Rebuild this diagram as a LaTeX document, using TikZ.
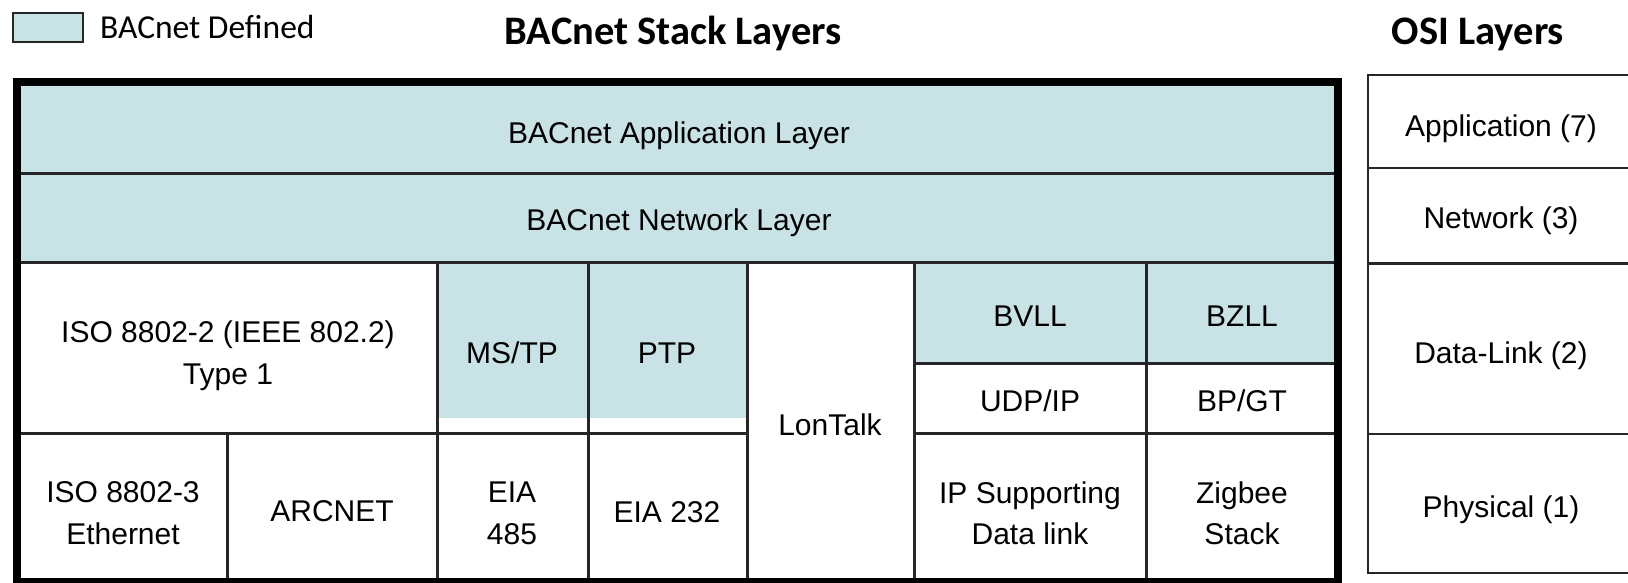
\documentclass[tikz,border=0pt]{standalone}
\usepackage{fontspec}
\setmainfont{Liberation Sans}
\newfontfamily\calibrifont{Carlito}
\definecolor{bacblue}{RGB}{200,226,230}
\definecolor{gridline}{RGB}{38,38,38}
\begin{document}
\begin{tikzpicture}[x=1pt,y=-1pt,
  gridln/.style={draw=gridline,line width=3pt},
  frameln/.style={draw=black,line width=8pt},
  osiln/.style={draw=gridline,line width=2.5pt},
  celltext/.style={font=\fontsize{30}{41.5}\selectfont,align=center,inner sep=0pt},
  oneline/.style={celltext,anchor=base},
  headtext/.style={font=\calibrifont\bfseries\fontsize{40.5}{46}\selectfont,inner sep=0pt,anchor=base},
  legendtext/.style={font=\calibrifont\fontsize{33.5}{40}\selectfont,inner sep=0pt}]
\useasboundingbox (0,0) rectangle (1628,582);
\begin{scope}
\clip (0,0) rectangle (1628,582);

% legend and headings
\node[draw=gridline,line width=2.5pt,fill=bacblue,minimum width=70pt,minimum height=29pt,inner sep=0pt] (legendbox) at (48,27.5) {};
\node[legendtext,anchor=base west] (legendlabel) at (100,38.5) {BACnet Defined};
\node[headtext] (stacktitle) at (673,44) {BACnet Stack Layers};
\node[headtext] (osititle) at (1478,44) {OSI Layers};

% BACnet-defined areas
\fill[bacblue] (17,82) rectangle (1338,262);
\fill[bacblue] (437,262) rectangle (747,418);
\fill[bacblue] (914,262) rectangle (1338,363);

% stack grid
\draw[gridln] (17,173) -- (1338,173);
\draw[gridln] (17,262) -- (1338,262);
\draw[gridln] (17,433.5) -- (747,433.5);
\draw[gridln] (914,433.5) -- (1338,433.5);
\draw[gridln] (914,363) -- (1338,363);
\foreach \x in {437,588,747,914,1146} \draw[gridln] (\x,262) -- (\x,582);
\draw[gridln] (227,433.5) -- (227,582);
\draw[frameln] (17,82) rectangle (1338,582);

% OSI column
\draw[osiln] (1700,75) -- (1368,75) -- (1368,573) -- (1700,573);
\foreach \y in {168,263.7,434} \draw[osiln] (1368,\y) -- (1700,\y);

% stack labels (single lines sit on their baselines; two-line labels are strutted)
\node[oneline] (app) at (679,143) {BACnet Application Layer};
\node[oneline] (net) at (679,230) {BACnet Network Layer};
\node[celltext] (llc) at (228,355) {ISO 8802-2 (IEEE 802.2)\strut\\Type 1\strut};
\node[oneline] (mstp) at (512,363) {MS/TP};
\node[oneline] (ptp) at (667,363) {PTP};
\node[oneline] (lon) at (830,435) {LonTalk};
\node[oneline] (bvll) at (1030,326.5) {BVLL};
\node[oneline] (bzll) at (1242,326.5) {BZLL};
\node[oneline] (udp) at (1030,411.5) {UDP/IP};
\node[oneline] (bpgt) at (1242,411.5) {BP/GT};
\node[celltext] (eth) at (123,515) {ISO 8802-3\strut\\Ethernet\strut};
\node[oneline] (arc) at (332,521.5) {ARCNET};
\node[celltext] (eia485) at (512,515) {EIA\strut\\485\strut};
\node[oneline] (eia232) at (667,522) {EIA 232};
\node[celltext] (ipdl) at (1030,515.5) {IP Supporting\strut\\Data link\strut};
\node[celltext] (zig) at (1242,515.5) {Zigbee\strut\\Stack\strut};

% OSI labels
\node[oneline] (osi7) at (1501,136.5) {Application (7)};
\node[oneline] (osi3) at (1501,228.5) {Network (3)};
\node[oneline] (osi2) at (1501,363.5) {Data-Link (2)};
\node[oneline] (osi1) at (1501,517.5) {Physical (1)};
\end{scope}
\end{tikzpicture}
\end{document}
